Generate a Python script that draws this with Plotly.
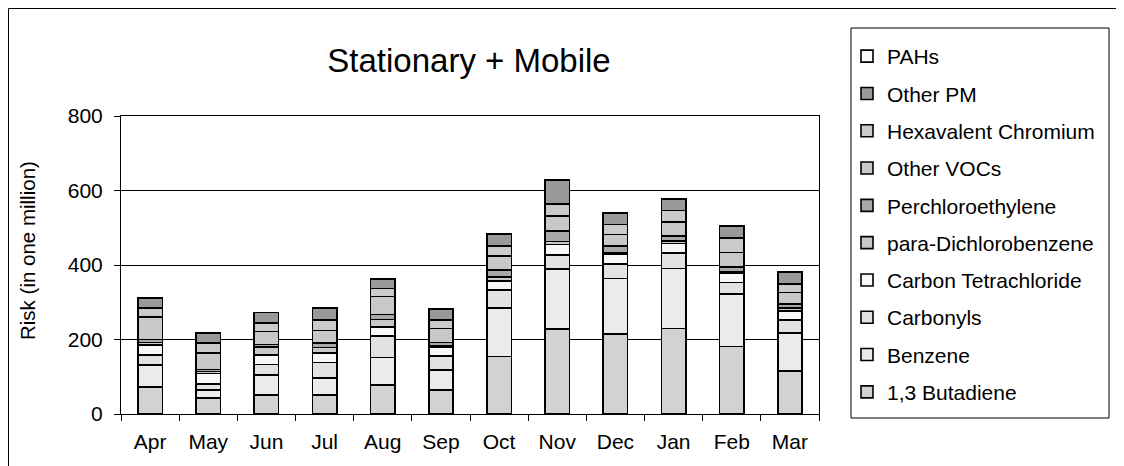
import plotly.graph_objects as go

months = ["Apr", "May", "Jun", "Jul", "Aug", "Sep", "Oct", "Nov", "Dec", "Jan", "Feb", "Mar"]

butadiene = [72, 43, 51, 51, 78, 64, 154, 228, 214, 230, 181, 116]
benzene = [59, 21, 54, 45, 74, 54, 130, 161, 150, 161, 141, 102]
carbonyls = [27, 16, 28, 42, 57, 38, 49, 38, 38, 42, 31, 34]
carbon_tet = [27, 29, 25, 25, 24, 23, 24, 28, 28, 25, 25, 25]
para_dcb = [7, 5, 22, 16, 21, 4, 11, 8, 4, 7, 5, 7]
perc = [8, 6, 7, 11, 13, 9, 18, 29, 17, 13, 12, 11]
other_vocs = [61, 44, 35, 34, 48, 38, 38, 39, 31, 37, 39, 31]
hex_chromium = [23, 27, 22, 28, 22, 22, 27, 32, 27, 31, 38, 23]
other_pm = [26, 27, 28, 31, 26, 30, 31, 64, 31, 32, 31, 31]
pahs = [1, 1, 1, 1, 1, 1, 1, 1, 1, 1, 1, 1]

series = [
    ("1,3 Butadiene", butadiene, "#d2d2d2"),
    ("Benzene", benzene, "#ebebeb"),
    ("Carbonyls", carbonyls, "#e2e2e2"),
    ("Carbon Tetrachloride", carbon_tet, "#f8f8f8"),
    ("para-Dichlorobenzene", para_dcb, "#c8c8c8"),
    ("Perchloroethylene", perc, "#a8a8a8"),
    ("Other VOCs", other_vocs, "#c8c8c8"),
    ("Hexavalent Chromium", hex_chromium, "#cacaca"),
    ("Other PM", other_pm, "#999999"),
    ("PAHs", pahs, "#ffffff"),
]

FONT = "Liberation Sans, Arial, sans-serif"

# page offset (default body margin of the html page)
O = 8
W, H = 1124 - O, 466 - O
L, R, T, B = 121 - O, 819 - O, 116 - O, 414 - O


def px_x(p):
    """page pixel x -> paper x"""
    return (p - O - L) / (R - L)


def px_y(p):
    """page pixel y -> paper y"""
    return (B - (p - O)) / (B - T)


fig = go.Figure()
n = len(series)
for i, (name, vals, col) in enumerate(series):
    fig.add_trace(go.Bar(
        x=months, y=vals, name=name, legendgroup=name, legendrank=n - i,
        marker=dict(color=col, line=dict(color="black", width=1.6)),
    ))

fig.update_layout(
    width=W, height=H,
    margin=dict(l=L, r=W - R, t=T, b=H - B, autoexpand=False),
    barmode="stack",
    bargap=0.58,
    plot_bgcolor="white",
    paper_bgcolor="white",
    font=dict(family=FONT, size=21, color="black"),
    showlegend=True,
    legend=dict(
        traceorder="grouped",
        tracegroupgap=7,
        x=px_x(847), xanchor="left",
        yref="container", y=1 - (36 - O) / H, yanchor="top",
        maxheight=440,
        bgcolor="rgba(0,0,0,0)",
        borderwidth=0,
        font=dict(family=FONT, size=21, color="black"),
    ),
    title=dict(
        text="Stationary + Mobile",
        x=px_x(469), xanchor="center", xref="paper",
        y=1 - (60 - O) / H, yanchor="middle", yref="container",
        font=dict(family=FONT, size=33, color="black"),
    ),
    xaxis=dict(
        showline=True, linecolor="black", linewidth=1, mirror=True,
        ticks="outside", ticklen=6, tickcolor="black", tickson="boundaries",
        ticklabelstandoff=9,
        showgrid=False,
        tickfont=dict(family=FONT, size=21, color="black"),
    ),
    yaxis=dict(
        range=[0, 800], tickvals=[0, 200, 400, 600, 800],
        showline=True, linecolor="black", linewidth=1, mirror=True,
        ticks="outside", ticklen=6, tickcolor="black",
        ticklabelstandoff=7,
        showgrid=True, gridcolor="black", gridwidth=1,
        zeroline=False,
        tickfont=dict(family=FONT, size=21, color="black"),
    ),
    annotations=[dict(
        text="Risk (in one million)", textangle=-90,
        x=px_x(27), y=px_y(251), xref="paper", yref="paper",
        xanchor="center", yanchor="middle", showarrow=False,
        font=dict(family=FONT, size=20.5, color="black"),
    )],
    shapes=[
        dict(type="rect", xref="paper", yref="paper",
             x0=px_x(8.5), x1=px_x(1160), y0=px_y(8.5), y1=px_y(500),
             line=dict(color="black", width=1), fillcolor="rgba(0,0,0,0)", layer="below"),
        dict(type="rect", xref="paper", yref="paper",
             x0=px_x(851), x1=px_x(1109), y0=px_y(28), y1=px_y(418),
             line=dict(color="black", width=1), fillcolor="rgba(0,0,0,0)"),
    ],
)

fig.write_html("out.html")
